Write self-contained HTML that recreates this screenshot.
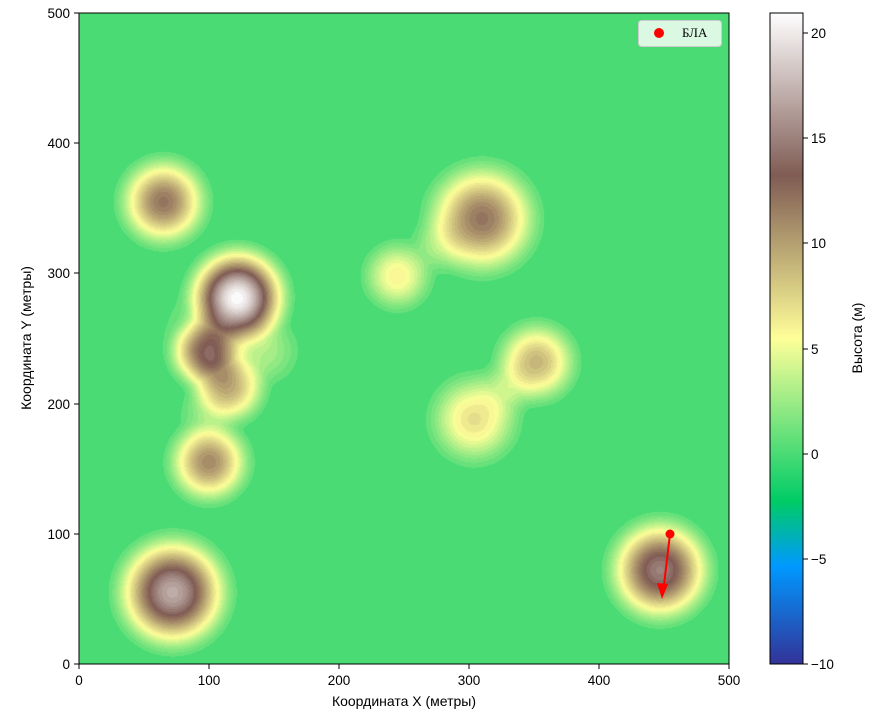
<!DOCTYPE html>
<html><head><meta charset="utf-8"><style>
body{margin:0;background:#fff;width:887px;height:718px;overflow:hidden;position:relative;font-family:"Liberation Sans","DejaVu Sans",sans-serif;font-size:14px;color:#000}
.a{position:absolute}
canvas{position:absolute}
</style></head><body>
<canvas id="c" width="650" height="651" style="left:79px;top:13px"></canvas>
<canvas id="cb" width="33" height="651" style="left:770px;top:13px"></canvas>
<svg class="a" style="left:0;top:0" width="887" height="718">
<rect x="79" y="13" width="650" height="651" fill="none" stroke="#000" stroke-width="1"/>
<rect x="770" y="13" width="33" height="651" fill="none" stroke="#000" stroke-width="1"/>
<g stroke="#000">
<line x1="79" y1="664" x2="79" y2="669"/><line x1="209" y1="664" x2="209" y2="669"/><line x1="339" y1="664" x2="339" y2="669"/><line x1="469" y1="664" x2="469" y2="669"/><line x1="599" y1="664" x2="599" y2="669"/><line x1="729" y1="664" x2="729" y2="669"/>
<line x1="74" y1="664" x2="79" y2="664"/><line x1="74" y1="534" x2="79" y2="534"/><line x1="74" y1="404" x2="79" y2="404"/><line x1="74" y1="273" x2="79" y2="273"/><line x1="74" y1="143" x2="79" y2="143"/><line x1="74" y1="13" x2="79" y2="13"/>
<line x1="803" y1="664" x2="808" y2="664"/><line x1="803" y1="559" x2="808" y2="559"/><line x1="803" y1="454" x2="808" y2="454"/><line x1="803" y1="349" x2="808" y2="349"/><line x1="803" y1="243" x2="808" y2="243"/><line x1="803" y1="138" x2="808" y2="138"/><line x1="803" y1="33" x2="808" y2="33"/>
</g>
<g font-size="13.5" font-family="Liberation Sans,DejaVu Sans,sans-serif" text-anchor="middle">
<text x="79" y="685">0</text><text x="209" y="685">100</text><text x="339" y="685">200</text><text x="469" y="685">300</text><text x="599" y="685">400</text><text x="729" y="685">500</text>
</g>
<g font-size="13.5" font-family="Liberation Sans,DejaVu Sans,sans-serif" text-anchor="end">
<text x="70" y="669">0</text><text x="70" y="539">100</text><text x="70" y="409">200</text><text x="70" y="278">300</text><text x="70" y="148">400</text><text x="70" y="18">500</text>
</g>
<g font-size="13.5" font-family="Liberation Sans,DejaVu Sans,sans-serif">
<text x="811" y="669">−10</text><text x="811" y="564">−5</text><text x="811" y="459">0</text><text x="811" y="354">5</text><text x="811" y="248">10</text><text x="811" y="143">15</text><text x="811" y="38">20</text>
</g>
<text x="404" y="706" font-size="14" text-anchor="middle" font-family="Liberation Sans,DejaVu Sans,sans-serif">Координата X (метры)</text>
<text transform="translate(31,338) rotate(-90)" font-size="14" text-anchor="middle" font-family="Liberation Sans,DejaVu Sans,sans-serif">Координата Y (метры)</text>
<text transform="translate(862,338) rotate(-90)" font-size="14" text-anchor="middle" font-family="Liberation Sans,DejaVu Sans,sans-serif">Высота (м)</text>
<line x1="670" y1="534" x2="664" y2="585" stroke="#f00" stroke-width="2"/>
<polygon points="662,599 657,583 668,584" fill="#f00"/>
<circle cx="670" cy="534" r="4.5" fill="#f00"/>
<rect x="638.5" y="20.5" width="83" height="26" rx="3" fill="#fff" fill-opacity="0.8" stroke="#ccc"/>
<circle cx="659" cy="33" r="5" fill="#f00"/>
<text x="682" y="37" font-size="13" font-family="Liberation Serif,serif">БЛА</text>
</svg>
<script>
function terrain(t){
 var s=[[0,.2,.2,.6],[.15,0,.6,1],[.25,0,.8,.4],[.5,1,1,.6],[.75,.5,.36,.33],[1,1,1,1]];
 t=Math.max(0,Math.min(1,t));
 for(var i=0;i<s.length-1;i++){if(t<=s[i+1][0]){var f=(t-s[i][0])/(s[i+1][0]-s[i][0]);
 return [0,1,2].map(function(k){return Math.round(255*(s[i][k+1]+f*(s[i+1][k+1]-s[i][k+1])))});}}
 return [255,255,255];
}
var H=[[65,355,12,40],[122,282,20,44],[98,240,12,33],[115,212,9,34],[100,155,11,37],[72,55,17,50],[245,298,6,32],[310,342,12,50],[352,232,9,37],[304,188,7,41],[447,72,15,46]];
H=H.map(function(h){return [h[0],h[1],h[2],h[3]*1.15];});
var B=[[112,250,3,66],[97,192,2,30],[277,322,2.6,32],[328,211,2.8,32],[145,240,2.2,36]];
H=H.concat(B);
var c=document.getElementById('c'),x=c.getContext('2d'),im=x.createImageData(650,651),d=im.data;
var step=0.62,vmin=-10,vmax=21;
for(var py=0;py<651;py++)for(var px=0;px<650;px++){
 var mx=(px+0.5)/1.3,my=500-(py+0.5)/1.302,s=0,m=0;
 for(var i=0;i<H.length;i++){var dx=mx-H[i][0],dy=my-H[i][1],u=Math.sqrt(dx*dx+dy*dy)/H[i][3];if(u<1){var v=H[i][2]*Math.pow(1-u*u,2.5);s+=v;if(v>m)m=v;}}
 var h=m+0.6*(s-m);
 var q=Math.floor(h/step)*step+step/2; if(h<step)q=0;
 var col=terrain((q-vmin)/(vmax-vmin)),o=(py*650+px)*4;
 d[o]=col[0];d[o+1]=col[1];d[o+2]=col[2];d[o+3]=255;}
x.putImageData(im,0,0);
var b=document.getElementById('cb'),y=b.getContext('2d');
for(var r=0;r<651;r++){var v=vmax-(r+0.5)/651*(vmax-vmin);var cc=terrain((v-vmin)/(vmax-vmin));y.fillStyle='rgb('+cc+')';y.fillRect(0,r,33,1);}
</script>
</body></html>
